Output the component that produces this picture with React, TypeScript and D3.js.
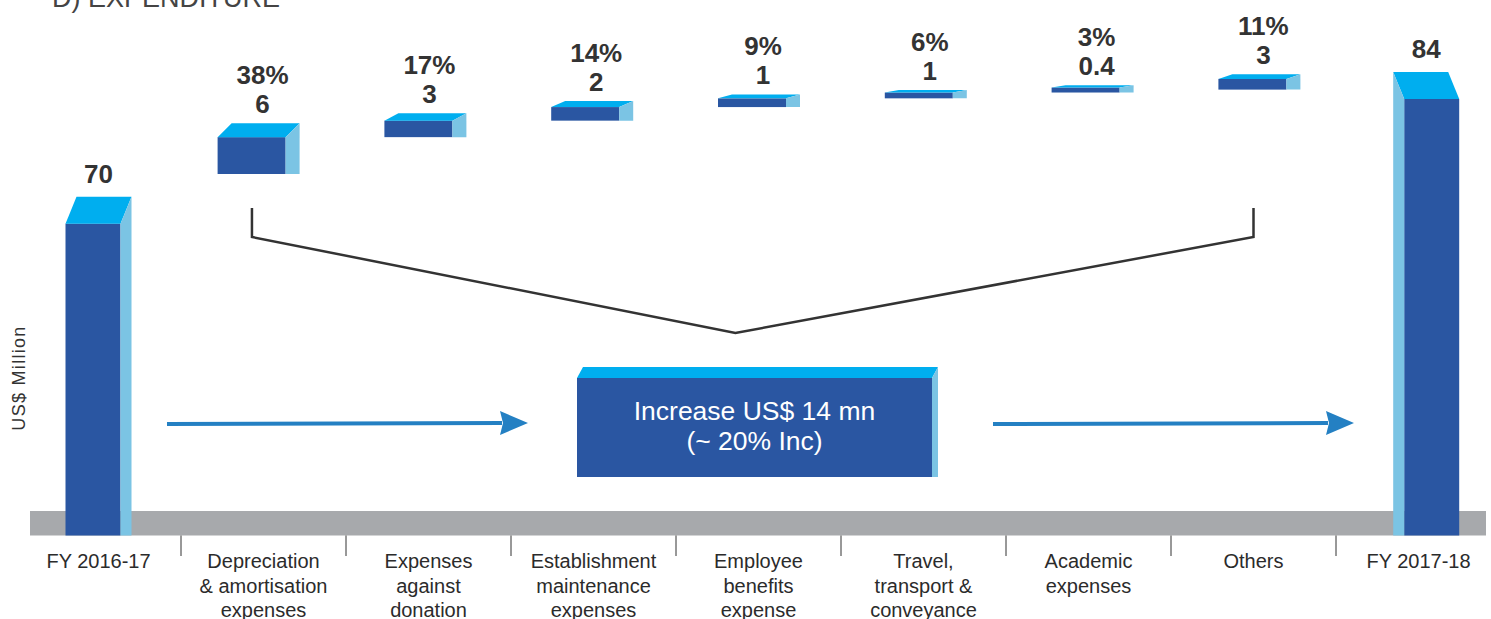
import { useEffect, useRef } from 'react';
import * as d3 from 'd3';

const CATEGORY_LINES: string[][] = [
  ['FY 2016-17'],
  ['Depreciation', '& amortisation', 'expenses'],
  ['Expenses', 'against', 'donation'],
  ['Establishment', 'maintenance', 'expenses'],
  ['Employee', 'benefits', 'expense'],
  ['Travel,', 'transport &', 'conveyance'],
  ['Academic', 'expenses'],
  ['Others'],
  ['FY 2017-18']
];
const CATEGORIES = CATEGORY_LINES.map(l => l.join(' '));

const TOTALS = [70, 84]; // FY 2016-17, FY 2017-18
const STEP_SHARES = [38, 17, 14, 9, 6, 3, 11]; // % of the increase
const STEP_VALUES = [6, 3, 2, 1, 1, 0.4, 3]; // US$ million

const FRONT = '#2a56a2';
const TOP = '#00aeef';
const SIDE = '#7bc4e4';
const GREY = '#a7a9ac';
const ARROW = '#2480c3';
const INK = '#333333';
const FONT = '"Liberation Sans", Arial, sans-serif';

const W = 1491;
const H = 619;

export default function App() {
  const svgRef = useRef<SVGSVGElement | null>(null);

  useEffect(() => {
    if (!svgRef.current) return;
    const svg = d3.select(svgRef.current);
    svg.selectAll('*').remove();

    const baseTop = 511;
    const baseY = 535.5;

    // x: category bands (ticks / labels), slightly wider spacing for the floating steps
    const x = d3.scaleBand<string>().domain(CATEGORIES).range([16, 1501]).padding(0);
    const xBar = d3.scaleBand<string>().domain(CATEGORIES).range([8.4, 1509.6]).padding(0);
    const bw = x.bandwidth();

    // y: totals on a truncated axis, steps on cumulative share of the increase
    const yTotal = d3.scaleLinear().domain([35, 85]).range([baseY, 90]);
    const yStep = d3.scaleLinear().domain([0, 100]).range([174, 77]);

    // Title (cut off at the top)
    svg.append('text')
      .attr('x', 52)
      .attr('y', 7)
      .attr('fill', '#444')
      .style('font-family', FONT)
      .style('font-size', '27px')
      .text('D) EXPENDITURE');

    // Y axis label
    svg.append('text')
      .attr('transform', `translate(25,378) rotate(-90)`)
      .attr('fill', INK)
      .style('font-family', FONT)
      .style('font-size', '18px')
      .style('letter-spacing', '1.3px')
      .style('text-anchor', 'middle')
      .text('US$  Million');

    // Grey baseline band
    svg.append('rect')
      .attr('x', 30)
      .attr('y', baseTop)
      .attr('width', 1486 - 30)
      .attr('height', baseY - baseTop)
      .attr('fill', GREY);

    // 3D box helper
    const drawBox = (
      x0: number, w: number, top: number, bottom: number,
      dx: number, dy: number, sideLeft = false
    ) => {
      const g = svg.append('g');
      const pts = (p: number[][]) => p.map(d => d.join(',')).join(' ');
      g.append('rect')
        .attr('x', x0).attr('y', top)
        .attr('width', w).attr('height', bottom - top)
        .attr('fill', FRONT);
      if (!sideLeft) {
        g.append('polygon')
          .attr('points', pts([[x0, top], [x0 + dx, top - dy], [x0 + w + dx, top - dy], [x0 + w, top]]))
          .attr('fill', TOP);
        g.append('polygon')
          .attr('points', pts([[x0 + w, top], [x0 + w + dx, top - dy], [x0 + w + dx, bottom], [x0 + w, bottom]]))
          .attr('fill', SIDE);
      } else {
        g.append('polygon')
          .attr('points', pts([[x0, top], [x0 - dx, top - dy], [x0 + w - dx, top - dy], [x0 + w, top]]))
          .attr('fill', TOP);
        g.append('polygon')
          .attr('points', pts([[x0, top], [x0 - dx, top - dy], [x0 - dx, bottom], [x0, bottom]]))
          .attr('fill', SIDE);
      }
      return g;
    };

    const valueLabel = (cx: number, y: number, text: string) => {
      svg.append('text')
        .attr('x', cx)
        .attr('y', y)
        .attr('fill', INK)
        .style('font-family', FONT)
        .style('font-size', '26px')
        .style('font-weight', 'bold')
        .style('text-anchor', 'middle')
        .text(text);
    };

    // Totals
    const totalW = 55;
    const totalDx = 11;
    const totalDy = 27;
    TOTALS.forEach((v, i) => {
      const cat = i === 0 ? CATEGORIES[0] : CATEGORIES[CATEGORIES.length - 1];
      const cx = i === 0 ? (x(cat) as number) + bw / 2 : (xBar(cat) as number) + xBar.bandwidth() / 2;
      const sideLeft = i === 1;
      const x0 = cx - (totalW + totalDx) / 2 + (sideLeft ? totalDx : 0);
      const top = yTotal(v);
      drawBox(x0, totalW, top, baseY, totalDx, totalDy, sideLeft);
      valueLabel(cx, top - totalDy - 14, String(v));
    });

    // Floating steps
    const stepW = 68;
    const stepDx = 14;
    let cum = 0;
    STEP_SHARES.forEach((share, i) => {
      const cat = CATEGORIES[i + 1];
      const cx = (xBar(cat) as number) + xBar.bandwidth() / 2;
      const bottom = yStep(cum);
      const top = Math.min(yStep(cum + share), bottom - 5); // keep thin steps visible
      const dy = Math.min(14, 0.45 * (bottom - top));
      drawBox(cx - (stepW + stepDx) / 2, stepW, top, bottom, stepDx, dy);
      valueLabel(cx + 4, top - dy - 39, `${share}%`);
      valueLabel(cx + 4, top - dy - 10, String(STEP_VALUES[i]));
      cum += share;
    });

    // Category separators
    CATEGORIES.slice(1).forEach(c => {
      const xx = x(c) as number;
      svg.append('line')
        .attr('x1', xx).attr('x2', xx)
        .attr('y1', baseY).attr('y2', 556)
        .attr('stroke', INK)
        .attr('stroke-width', 1);
    });

    // Category labels
    CATEGORY_LINES.forEach((lines, i) => {
      const t = svg.append('text')
        .attr('x', (x(CATEGORIES[i]) as number) + bw / 2)
        .attr('y', 568)
        .attr('fill', '#2b2b2b')
        .style('font-family', FONT)
        .style('font-size', '20px')
        .style('text-anchor', 'middle');
      lines.forEach((l, j) => {
        t.append('tspan')
          .attr('x', (x(CATEGORIES[i]) as number) + bw / 2)
          .attr('dy', j === 0 ? 0 : 24.5)
          .text(l);
      });
    });

    // Bracket grouping the steps
    const bl = (x(CATEGORIES[1]) as number) + bw * 0.43;
    const br = (x(CATEGORIES[7]) as number) + bw * 0.5;
    const apex = (x(CATEGORIES[4]) as number) + bw * 0.36;
    svg.append('path')
      .attr('d', d3.line()([[bl, 208], [bl, 237], [apex, 333], [br, 237], [br, 208]]))
      .attr('fill', 'none')
      .attr('stroke', INK)
      .attr('stroke-width', 2.5)
      .attr('stroke-linejoin', 'miter');

    // Summary box
    const boxCx = (x(CATEGORIES[4]) as number) + bw / 2 - 4;
    const boxW = 355;
    const boxL = boxCx - boxW / 2;
    drawBox(boxL, boxW, 378, 477, 6, 11);
    const boxText = svg.append('text')
      .attr('fill', '#ffffff')
      .style('font-family', FONT)
      .style('font-size', '26.5px')
      .style('text-anchor', 'middle');
    boxText.append('tspan').attr('x', boxCx).attr('y', 420).text('Increase US$ 14 mn');
    boxText.append('tspan').attr('x', boxCx).attr('y', 450).text('(~ 20% Inc)');

    // Arrows
    const arrowY = 423;
    const drawArrow = (x1: number, x2: number) => {
      svg.append('line')
        .attr('x1', x1).attr('x2', x2 - 26)
        .attr('y1', arrowY + 1).attr('y2', arrowY)
        .attr('stroke', ARROW)
        .attr('stroke-width', 4);
      svg.append('polygon')
        .attr('points', [[x2 - 28, arrowY - 12], [x2, arrowY], [x2 - 28, arrowY + 12], [x2 - 25, arrowY]]
          .map(d => d.join(',')).join(' '))
        .attr('fill', ARROW);
    };
    drawArrow((x(CATEGORIES[1]) as number) - 14, boxL - 49);
    drawArrow(boxL + boxW + 6 + 55, (x(CATEGORIES[8]) as number) + 18);
  }, []);

  return (
    <svg
      ref={svgRef}
      width={W}
      height={H}
      style={{ position: 'absolute', left: 0, top: 0, display: 'block', background: '#fff' }}
    />
  );
}
